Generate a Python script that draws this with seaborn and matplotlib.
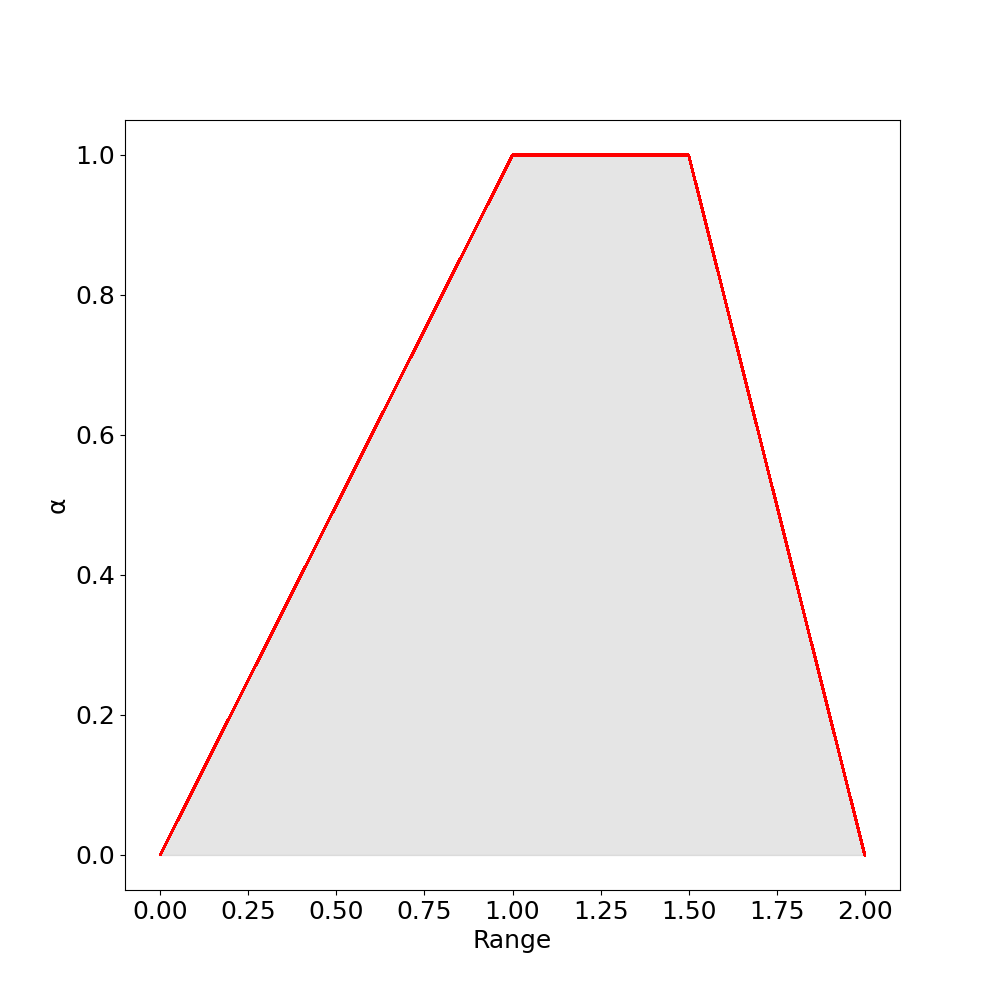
import numpy as np
import pandas as pd
import matplotlib
matplotlib.use("Agg")
import matplotlib.pyplot as plt
import seaborn as sns

# trapezoidal membership: corner points
range_pts = [0.0, 1.0, 1.5, 2.0]
alpha_pts = [0.0, 1.0, 1.0, 0.0]

df = pd.DataFrame({'Range': range_pts, 'alpha': alpha_pts})

sns.set_style('white')
plt.rcParams['font.family'] = ['DejaVu Sans']
plt.rcParams.update({'text.color': 'black', 'axes.labelcolor': 'black',
                     'xtick.color': 'black', 'ytick.color': 'black'})

fig, ax = plt.subplots(figsize=(10, 10), dpi=100)
ax.fill_between(df['Range'], df['alpha'], 0, color='gray', alpha=0.2)
sns.lineplot(data=df, x='Range', y='alpha', color='red', linewidth=1.5,
             sort=False, ax=ax, antialiased=False)

ax.set_xticks([0, 0.25, 0.5, 0.75, 1.0, 1.25, 1.5, 1.75, 2.0])
ax.set_xlabel('Range', fontsize=18)
ax.set_ylabel('α', fontsize=18)
ax.tick_params(labelsize=18, left=True, bottom=True, length=3.5, colors='black')
for s in ax.spines.values():
    s.set_color('black')
    s.set_linewidth(0.8)

fig.savefig('out.png')
